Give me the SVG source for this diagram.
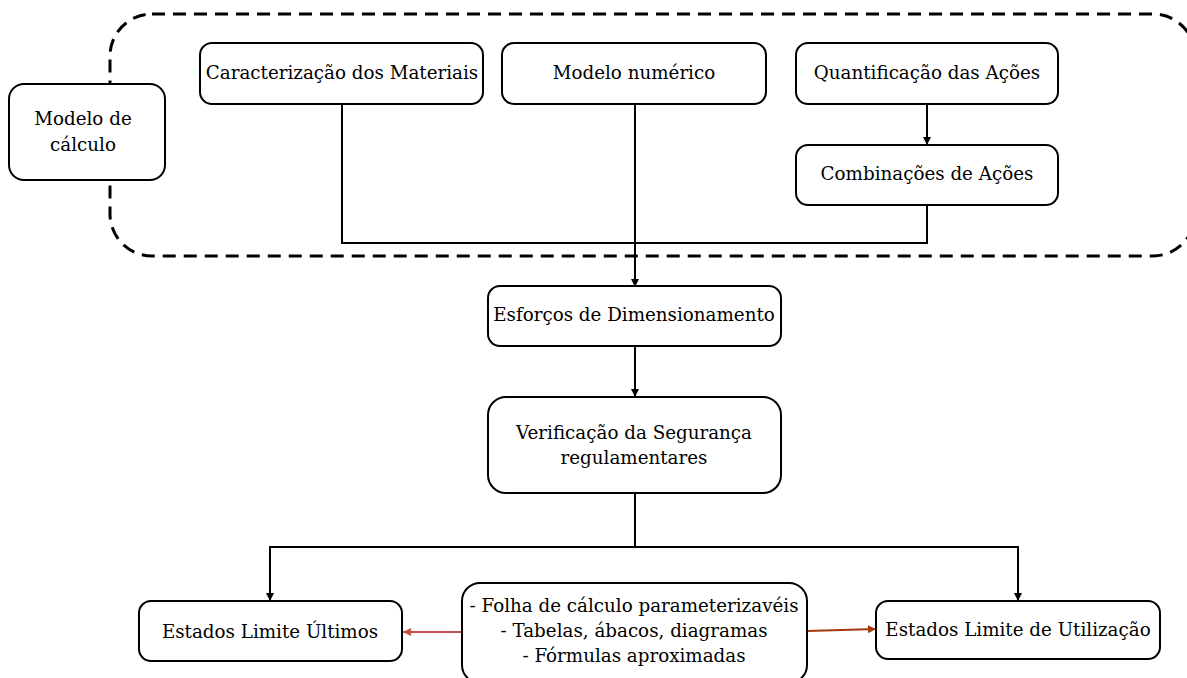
<svg xmlns="http://www.w3.org/2000/svg" width="1187" height="678" viewBox="0 0 1187 678">
<style>
.box{fill:#fff;stroke:#000;stroke-width:2}
.t{font-family:"DejaVu Serif","Liberation Serif",serif;font-size:18.3px;fill:#000;text-anchor:middle}
.c{fill:none;stroke:#000;stroke-width:2}
</style>
<defs>
<marker id="ab" viewBox="0 0 10 10" refX="10" refY="5" markerWidth="8" markerHeight="15" markerUnits="userSpaceOnUse" orient="auto"><path d="M0,0 L10,5 L0,10 z" fill="#000"/></marker>
<marker id="ar" viewBox="0 0 10 10" refX="10" refY="5" markerWidth="16" markerHeight="8" markerUnits="userSpaceOnUse" orient="auto"><path d="M0,0 L10,5 L0,10 z" fill="#c0504d"/></marker>
<marker id="ao" viewBox="0 0 10 10" refX="10" refY="5" markerWidth="16" markerHeight="8" markerUnits="userSpaceOnUse" orient="auto"><path d="M0,0 L10,5 L0,10 z" fill="#a33a0c"/></marker>
</defs>
<rect width="1187" height="678" fill="#fff"/>
<g id="grupo">
<rect x="110" y="14" width="1085" height="242" rx="42" ry="42" fill="none" stroke="#000" stroke-width="3" stroke-dasharray="13,8"/>
</g>
<g id="connectors">
<path class="c" d="M927,104 V145" marker-end="url(#ab)"/>
<path class="c" d="M342,104 V243 H927 V205"/>
<path class="c" d="M635,104 V287" marker-end="url(#ab)"/>
<path class="c" d="M635,346 V397" marker-end="url(#ab)"/>
<path class="c" d="M635,493 V547"/>
<path class="c" d="M270,547 H1018"/>
<path class="c" d="M270,546 V601" marker-end="url(#ab)"/>
<path class="c" d="M1018,546 V601" marker-end="url(#ab)"/>
<path d="M462,632 H403" fill="none" stroke="#c0504d" stroke-width="2" marker-end="url(#ar)"/>
<path d="M807,631 L876,629" fill="none" stroke="#a33a0c" stroke-width="2" marker-end="url(#ao)"/>
</g>
<g id="modelo-calculo">
<rect class="box" x="9" y="84" width="156" height="96" rx="15"/>
<text class="t" x="83" y="125">Modelo de</text>
<text class="t" x="83" y="151">cálculo</text>
</g>
<g id="caracterizacao">
<rect class="box" x="200" y="43" width="283" height="61" rx="12"/>
<text class="t" x="342" y="79">Caracterização dos Materiais</text>
</g>
<g id="modelo-numerico">
<rect class="box" x="502" y="43" width="264" height="61" rx="12"/>
<text class="t" x="634" y="79">Modelo numérico</text>
</g>
<g id="quantificacao">
<rect class="box" x="796" y="43" width="262" height="61" rx="12"/>
<text class="t" x="927" y="79">Quantificação das Ações</text>
</g>
<g id="combinacoes">
<rect class="box" x="796" y="145" width="262" height="60" rx="12"/>
<text class="t" x="927" y="180">Combinações de Ações</text>
</g>
<g id="esforcos">
<rect class="box" x="488" y="286" width="293" height="60" rx="12"/>
<text class="t" x="634" y="321">Esforços de Dimensionamento</text>
</g>
<g id="verificacao">
<rect class="box" x="488" y="397" width="293" height="96" rx="18"/>
<text class="t" x="634" y="439">Verificação da Segurança</text>
<text class="t" x="634" y="464">regulamentares</text>
</g>
<g id="elu">
<rect class="box" x="139" y="601" width="263" height="60" rx="12"/>
<text class="t" x="270" y="638">Estados Limite Últimos</text>
</g>
<g id="ferramentas">
<rect class="box" x="462" y="583" width="345" height="100" rx="18"/>
<text class="t" x="634" y="612">- Folha de cálculo parameterizavéis</text>
<text class="t" x="634" y="637">- Tabelas, ábacos, diagramas</text>
<text class="t" x="634" y="662">- Fórmulas aproximadas</text>
</g>
<g id="els">
<rect class="box" x="876" y="601" width="284" height="58" rx="12"/>
<text class="t" x="1018" y="636">Estados Limite de Utilização</text>
</g>
</svg>
